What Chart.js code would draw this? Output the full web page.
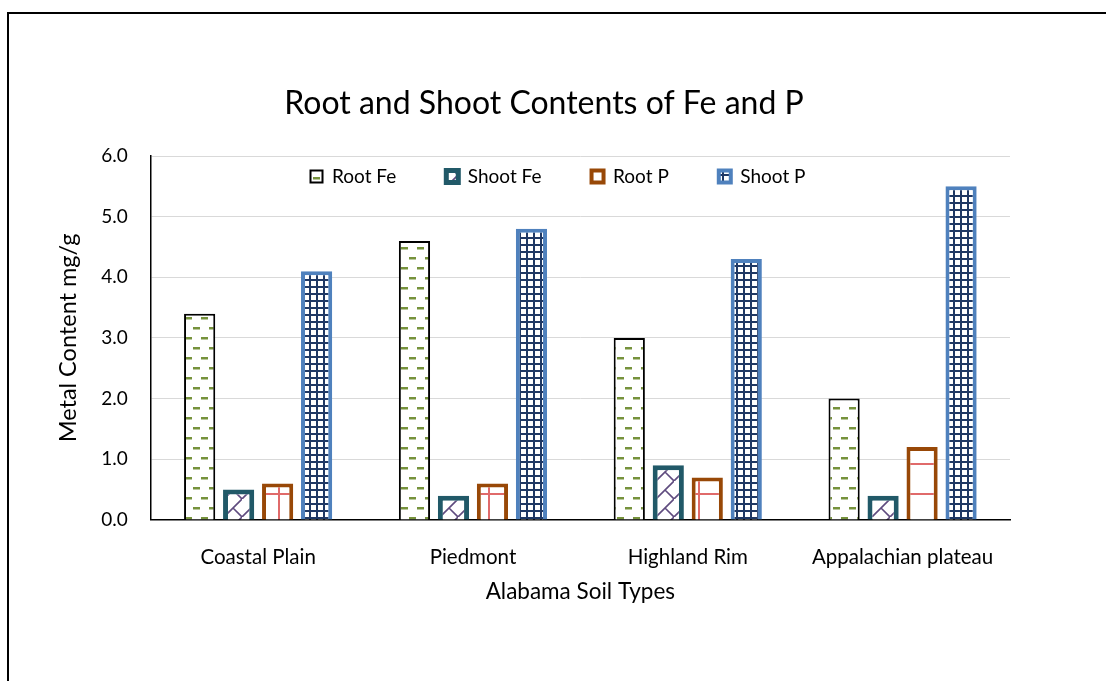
<!DOCTYPE html>
<html>
<head>
<meta charset="utf-8">
<script src="https://cdn.jsdelivr.net/npm/chart.js@4"></script>
<style>
  html, body { margin: 0; padding: 0; background: #fff; overflow: hidden; width: 1106px; height: 681px; }
  #frame { position: absolute; left: 7px; top: 12px; width: 1200px; height: 800px; border: 2px solid #000; box-sizing: border-box; }
  #wrap { position: absolute; left: 8px; top: 13px; width: 1072px; height: 668px; }
</style>
</head>
<body>
<div id="frame"></div>
<div id="wrap"><canvas id="chart" width="1072" height="668"></canvas></div>
<script>
const categories = ["Coastal Plain", "Piedmont", "Highland Rim", "Appalachian plateau"];
const rootFe = [3.4, 4.6, 3.0, 2.0];
const shootFe = [0.5, 0.4, 0.9, 0.4];
const rootP = [0.6, 0.6, 0.7, 1.2];
const shootP = [4.1, 4.8, 4.3, 5.5];
const yTicks = [0, 1, 2, 3, 4, 5, 6];

const FONT = "Lato";
const INK = "#000";

// little tiles for the excel-like pattern fills
function makePattern(w, h, paint) {
  const c = document.createElement("canvas");
  c.width = w;
  c.height = h;
  const g = c.getContext("2d");
  g.fillStyle = "#fff";
  g.fillRect(0, 0, w, h);
  paint(g);
  return g.createPattern(c, "repeat");
}

const dashFill = makePattern(16, 20, g => {
  g.fillStyle = "#76923C";
  g.fillRect(1, 4, 7, 2.5);
  g.fillRect(9, 14, 7, 2.5);
});

const trellisFill = makePattern(18, 18, g => {
  g.strokeStyle = "#5F4B7F";
  g.lineWidth = 1.6;
  g.beginPath();
  g.moveTo(0, 18); g.lineTo(18, 0);
  g.moveTo(9, 9); g.lineTo(18, 18);
  g.stroke();
});

const bigGridFill = makePattern(30, 30, g => {
  g.fillStyle = "#E06A6A";
  g.fillRect(0, 0, 30, 2);
  g.fillRect(0, 0, 2, 30);
});

const smallGridFill = makePattern(7, 7, g => {
  g.fillStyle = "#1F3864";
  g.fillRect(0, 0, 7, 2);
  g.fillRect(0, 0, 2, 7);
});

// legend takes (almost) no room at the top, then gets dropped inside the plot;
// title and legend are nudged right so they sit where the original has them
const legendShift = {
  id: "legendShift",
  afterLayout(chart) {
    const lg = chart.legend;
    const pad = lg.options.labels.padding;
    lg.top = chart.chartArea.top + 11 - pad;
    lg.height = pad + 40;
    lg.bottom = lg.top + lg.height;
    lg.left += 26;
    lg.right += 26;
    chart.titleBlock.left += 12;
    chart.titleBlock.right += 12;
  }
};

const ctx = document.getElementById("chart").getContext("2d");
new Chart(ctx, {
  type: "bar",
  data: {
    labels: categories,
    datasets: [
      { label: "Root Fe", data: rootFe, backgroundColor: dashFill, borderColor: "#000", borderWidth: 2 },
      { label: "Shoot Fe", data: shootFe, backgroundColor: trellisFill, borderColor: "#215968", borderWidth: 5 },
      { label: "Root P", data: rootP, backgroundColor: bigGridFill, borderColor: "#984807", borderWidth: 4 },
      { label: "Shoot P", data: shootP, backgroundColor: smallGridFill, borderColor: "#4F81BD", borderWidth: 4 }
    ]
  },
  options: {
    responsive: false,
    animation: false,
    layout: { padding: { left: 46, right: 70, top: 0, bottom: 75.5 } },
    datasets: { bar: { categoryPercentage: 0.726, barPercentage: 0.8 } },
    plugins: {
      title: {
        display: true,
        text: "Root and Shoot Contents of Fe and P",
        color: INK,
        font: { family: FONT, size: 32, weight: "normal" },
        padding: { top: 71, bottom: 32.6 }
      },
      legend: {
        position: "top",
        maxHeight: 1,
        labels: {
          boxWidth: 12,
          boxHeight: 12,
          padding: 50,
          color: INK,
          font: { family: FONT, size: 19 }
        }
      },
      tooltip: { enabled: false }
    },
    scales: {
      x: {
        grid: { display: false, drawTicks: false },
        border: { color: "#000", width: 1.5 },
        ticks: { padding: 25, color: INK, font: { family: FONT, size: 20.5 } },
        title: {
          display: true,
          text: "Alabama Soil Types",
          color: INK,
          font: { family: FONT, size: 22.5 },
          padding: { top: -16, bottom: 0 }
        }
      },
      y: {
        min: 0,
        max: 6,
        afterBuildTicks: axis => { axis.ticks = yTicks.map(v => ({ value: v })); },
        grid: { color: "#D9D9D9", drawTicks: false },
        border: { color: "#000", width: 1.5 },
        ticks: { padding: 23, color: INK, font: { family: FONT, size: 19 }, callback: v => Number(v).toFixed(1) },
        title: {
          display: true,
          text: "Metal Content mg/g",
          color: INK,
          font: { family: FONT, size: 23.5 },
          padding: { top: 0, bottom: -4 }
        }
      }
    }
  },
  plugins: [legendShift]
});
</script>
</body>
</html>
